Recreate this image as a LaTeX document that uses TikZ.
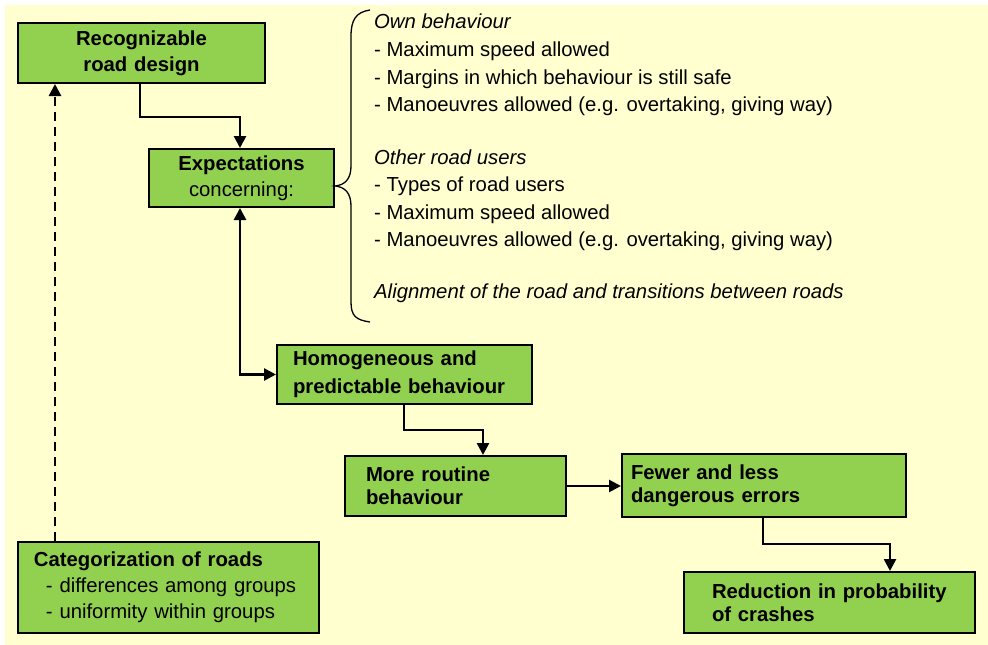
\documentclass[tikz,border=0pt]{standalone}
\usepackage{fontspec}
\setmainfont{Liberation Sans}
\usetikzlibrary{arrows.meta}
\definecolor{bgyellow}{RGB}{255,255,208}
\definecolor{boxgreen}{RGB}{146,208,80}
\begin{document}
\begin{tikzpicture}[x=1pt,y=-1pt,
  box/.style={draw=black, line width=2pt, fill=boxgreen, anchor=north west,
    font=\fontsize{20.3}{26}\selectfont, inner ysep=0pt},
  tip/.style={Triangle[length=12pt,width=12pt]},
  arr/.style={line width=2.6pt, -{Triangle[length=12pt,width=12pt]}},
  bline/.style={anchor=base west, inner sep=0pt, font=\fontsize{20.3}{27}\selectfont}]
\useasboundingbox (0,0) rectangle (988,645);
\fill[white] (0,0) rectangle (988,645);
\fill[bgyellow] (5,5) rectangle (988,645);

% boxes
\node[box, minimum width=247pt, minimum height=60pt, text width=237pt, inner xsep=5pt, align=center]
  (rec) at (17,22) {\textbf{Recognizable}\\\textbf{road design}};
\node[box, minimum width=185pt, minimum height=58pt, text width=175pt, inner xsep=5pt, align=center]
  (exp) at (148,148) {\textbf{Expectations}\\concerning:};
\node[box, minimum width=255pt, minimum height=59pt, text width=223pt, inner xsep=16pt, align=left,
  font=\fontsize{20.3}{28}\selectfont]
  (hom) at (276,344) {\textbf{Homogeneous and}\\\textbf{predictable behaviour}};
\node[box, minimum width=221pt, minimum height=60pt, text width=179pt, inner xsep=21pt, align=left,
  font=\fontsize{20.3}{23}\selectfont]
  (rout) at (344,455) {\textbf{More routine}\\\textbf{behaviour}};
\node[box, minimum width=284pt, minimum height=63pt, text width=266pt, inner xsep=9pt, align=left,
  font=\fontsize{20.3}{23}\selectfont]
  (few) at (621,453) {\textbf{Fewer and less}\\\textbf{dangerous errors}};
\node[box, minimum width=291pt, minimum height=61pt, text width=235pt, inner xsep=28pt, align=left,
  font=\fontsize{20.3}{23}\selectfont]
  (red) at (683,571) {\textbf{Reduction in probability}\\\textbf{of crashes}};
\node[box, minimum width=301pt, minimum height=91pt, text width=269pt, inner xsep=16pt, align=left]
  (cat) at (17,541) {\textbf{Categorization of roads}\\\hspace*{12pt}- differences among groups\\\hspace*{12pt}- uniformity within groups};

% connectors
\draw[arr] ([xshift=123pt]rec.south west) -- ++(0,33) -| ([xshift=92pt]exp.north west);
\draw[arr, dash pattern=on 9pt off 6pt] ([xshift=38pt]cat.north west) -- ([xshift=38pt]rec.south west);
\draw[line width=2.6pt, {Triangle[length=12pt,width=12pt]}-{Triangle[length=12pt,width=12pt]}]
  ([xshift=92pt]exp.south west) |- (hom.west);
\draw[arr] ([xshift=128pt]hom.south west) -- ++(0,25) -| ([xshift=139pt]rout.north west);
\draw[arr] (rout.east) -- (rout.east -| few.west);
\draw[arr] ([xshift=142pt]few.south west) -- ++(0,26) -| ([xshift=207pt]red.north west);

% brace
\draw[line width=1.3pt] (370,10) .. controls (356,12) and (351,20) .. (351,36) -- (351,166)
  .. controls (351,179) and (345,185) .. (335,186)
  .. controls (345,187) and (351,193) .. (351,206) -- (351,302)
  .. controls (351,316) and (356,320) .. (370,322);

% brace text
\node[bline] (t1) at (374,28) {\itshape Own behaviour};
\node[bline] (t2) at (374,56) {- Maximum speed allowed};
\node[bline] (t3) at (374,84) {- Margins in which behaviour is still safe};
\node[bline] (t4) at (374,111) {- Manoeuvres allowed (e.g. overtaking, giving way)};
\node[bline] (t5) at (374,164) {\itshape Other road users};
\node[bline] (t6) at (374,191) {- Types of road users};
\node[bline] (t7) at (374,219) {- Maximum speed allowed};
\node[bline] (t8) at (374,246) {- Manoeuvres allowed (e.g. overtaking, giving way)};
\node[bline] (t9) at (374,298) {\itshape Alignment of the road and transitions between roads};
\end{tikzpicture}
\end{document}
